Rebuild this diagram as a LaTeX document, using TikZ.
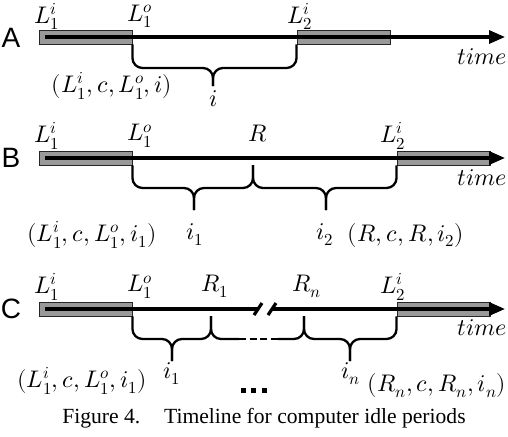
\documentclass[tikz,border=0pt]{standalone}
\usepackage{fontspec}
\usepackage{unicode-math}
\setmainfont{Liberation Serif}
\setsansfont{Liberation Sans}
\usetikzlibrary{arrows.meta}
\begin{document}
\begin{tikzpicture}[x=1pt,y=-1pt,
  lbl/.style={font=\fontsize{24}{26}\selectfont, inner sep=0pt},
  panel/.style={font=\sffamily\fontsize{28}{30}\selectfont, inner sep=0pt},
  busy/.style={draw=black!85, fill=black!40, line width=0.9pt, minimum width=93pt, minimum height=14pt, inner sep=0pt},
  axis/.style={line width=3.2pt, -{Triangle[length=16pt,width=13pt]}},
  brc/.style={line width=2.3pt, rounded corners=10pt},
  brk/.style={line width=3.2pt},
  dotsq/.style={fill=black, minimum size=5pt, inner sep=0pt},
  captext/.style={font=\fontsize{21.6}{24}\selectfont, inner sep=0pt}]
\useasboundingbox (0,0) rectangle (508,436);

% ---------------- A ----------------
\node[panel] (pA) at (11,38) {A};
\node[busy] (a1) at (85.5,37) {};
\node[busy] (a2) at (343.5,37) {};
\coordinate (aS) at (45,37);
\coordinate (aE) at (505,37);
\draw[axis] (aS) -- (aE);
\node[lbl] (aL1i) at (47,16.5) {$L_1^i$};
\node[lbl] (aL1o) at (140,16.5) {$L_1^o$};
\node[lbl] (aL2i) at (300,16.5) {$L_2^i$};
\node[lbl] (aT) at (482,57) {$time$};
\coordinate (aTip) at (213,86);
\draw[brc] (a1.south east) -- (a1.south east |- 0,68) -- (aTip |- 0,68) -- (aTip);
\draw[brc] (aTip) -- (aTip |- 0,68) -- (a2.south west |- 0,68) -- (a2.south west);
\node[lbl] (ai) at (214,99) {$i$};
\node[lbl] (aTup) at (112,86) {$(L_1^i,c,L_1^o,i)$};

% ---------------- B ----------------
\node[panel] (pB) at (11,158) {B};
\node[busy] (b1) at (85.5,158) {};
\node[busy] (b2) at (443.5,158) {};
\coordinate (bS) at (45,158);
\coordinate (bE) at (505,158);
\draw[axis] (bS) -- (bE);
\node[lbl] (bL1i) at (47,136) {$L_1^i$};
\node[lbl] (bL1o) at (140,136) {$L_1^o$};
\node[lbl] (bR) at (258,134) {$R$};
\node[lbl] (bL2i) at (393,136) {$L_2^i$};
\node[lbl] (bT) at (482,178) {$time$};
\coordinate (bRp) at (253,165);
\coordinate (bTip1) at (194,210);
\coordinate (bTip2) at (326,210);
\draw[brc] (b1.south east) -- (b1.south east |- 0,188) -- (bTip1 |- 0,188) -- (bTip1);
\draw[brc] (bTip1) -- (bTip1 |- 0,188) -- (bRp |- 0,188) -- (bRp);
\draw[brc] (bRp) -- (bRp |- 0,188) -- (bTip2 |- 0,188) -- (bTip2);
\draw[brc] (bTip2) -- (bTip2 |- 0,188) -- (b2.south west |- 0,188) -- (b2.south west);
\node[lbl] (bi1) at (195,235) {$i_1$};
\node[lbl] (bi2) at (325,235) {$i_2$};
\node[lbl] (bTup1) at (92,235) {$(L_1^i,c,L_1^o,i_1)$};
\node[lbl] (bTup2) at (406,235) {$(R,c,R,i_2)$};

% ---------------- C ----------------
\node[panel] (pC) at (11,309) {C};
\node[busy] (c1) at (85.5,309) {};
\node[busy] (c2) at (443.5,309) {};
\coordinate (cS) at (45,309);
\coordinate (cB1) at (258,309);
\coordinate (cB2) at (272,309);
\coordinate (cE) at (505,309);
\draw[brk] (cS) -- (cB1);
\draw[axis] (cB2) -- (cE);
\coordinate (s1a) at (254,315);
\coordinate (s1b) at (262,303);
\coordinate (s2a) at (268,315);
\coordinate (s2b) at (276,303);
\draw[brk] (s1a) -- (s1b);
\draw[brk] (s2a) -- (s2b);
\node[lbl] (cL1i) at (47,287) {$L_1^i$};
\node[lbl] (cL1o) at (140,287) {$L_1^o$};
\node[lbl] (cR1) at (215,286) {$R_1$};
\node[lbl] (cRn) at (307,286) {$R_n$};
\node[lbl] (cL2i) at (393,287) {$L_2^i$};
\node[lbl] (cT) at (482,328) {$time$};
\coordinate (cP1) at (211,316);
\coordinate (cPn) at (304,316);
\coordinate (cTip1) at (172,361);
\coordinate (cTipn) at (350,361);
\coordinate (cG1) at (239,339);
\coordinate (cG2) at (278,339);
\draw[brc] (c1.south east) -- (c1.south east |- 0,339) -- (cTip1 |- 0,339) -- (cTip1);
\draw[brc] (cTip1) -- (cTip1 |- 0,339) -- (cP1 |- 0,339) -- (cP1);
\draw[brc] (cP1) -- (cP1 |- 0,339) -- (cG1);
\draw[brc, dash pattern=on 7pt off 3.5pt] (cG1) -- (cG2);
\draw[brc] (cG2) -- (cPn |- 0,339) -- (cPn);
\draw[brc] (cPn) -- (cPn |- 0,339) -- (cTipn |- 0,339) -- (cTipn);
\draw[brc] (cTipn) -- (cTipn |- 0,339) -- (c2.south west |- 0,339) -- (c2.south west);
\node[lbl] (ci1) at (172,374) {$i_1$};
\node[lbl] (cin) at (351,374) {$i_n$};
\node[lbl] (cTup1) at (82,381) {$(L_1^i,c,L_1^o,i_1)$};
\node[lbl] (cTupn) at (437,386) {$(R_n,c,R_n,i_n)$};
\node[dotsq] (d1) at (243,390) {};
\node[dotsq] (d2) at (253.5,390) {};
\node[dotsq] (d3) at (264,390) {};

% ---------------- caption ----------------
\node[captext] (capt) at (264,418) {Figure 4.\hspace{1.1em}Timeline for computer idle periods};
\end{tikzpicture}
\end{document}
